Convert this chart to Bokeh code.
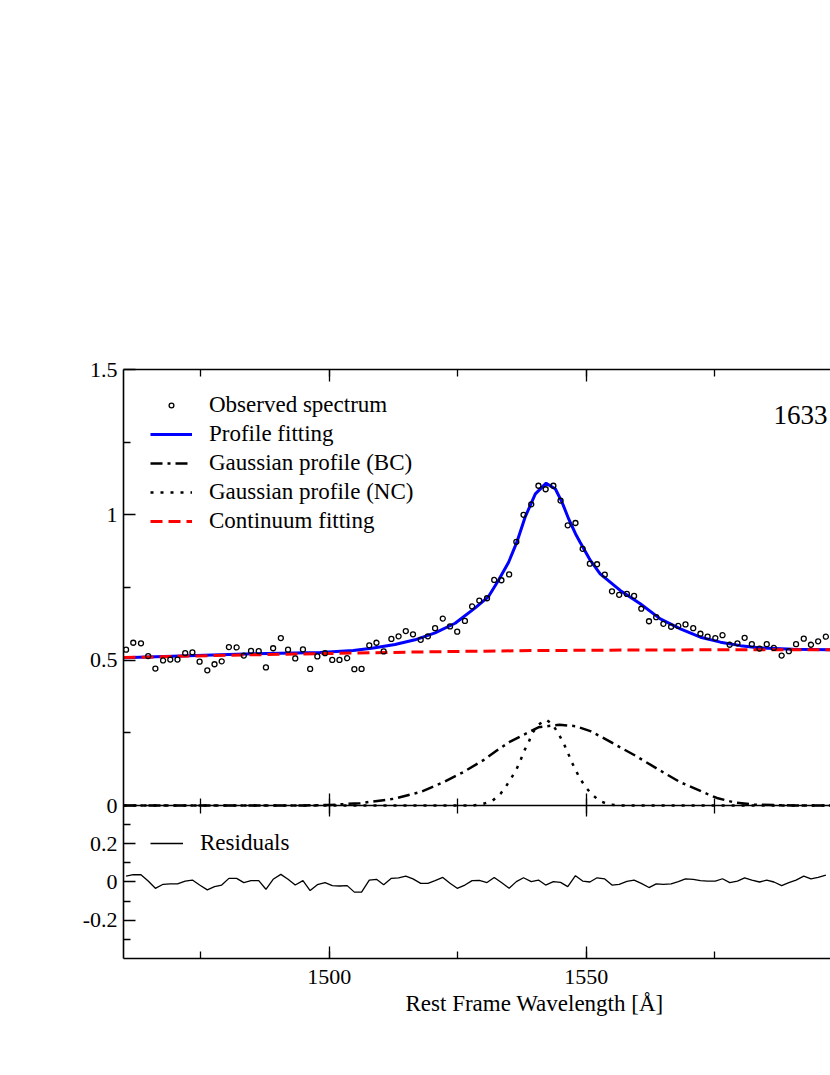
from bokeh.plotting import figure
from bokeh.models import (LinearAxis, Range1d, FixedTicker, SingleIntervalTicker,
                          Legend, LegendItem, Label, Title)
from bokeh.embed import file_html
from bokeh.resources import INLINE

FONT = "Liberation Serif"

# ---------------- data ----------------
wavelength = [1460.5, 1461.9, 1463.4, 1464.8, 1466.2, 1467.7, 1469.1, 1470.5, 1472.0, 1473.4,
              1474.8, 1476.3, 1477.7, 1479.1, 1480.5, 1482.0, 1483.4, 1484.8, 1486.3, 1487.7,
              1489.1, 1490.6, 1492.0, 1493.4, 1494.9, 1496.3, 1497.7, 1499.2, 1500.6, 1502.0,
              1503.5, 1504.9, 1506.3, 1507.8, 1509.2, 1510.6, 1512.1, 1513.5, 1514.9, 1516.3,
              1517.8, 1519.2, 1520.6, 1522.1, 1523.5, 1524.9, 1526.4, 1527.8, 1529.2, 1530.7,
              1532.1, 1533.5, 1535.0, 1536.4, 1537.8, 1539.3, 1540.7, 1542.1, 1543.6, 1545.0,
              1546.4, 1547.9, 1549.3, 1550.7, 1552.1, 1553.6, 1555.0, 1556.4, 1557.9, 1559.3,
              1560.7, 1562.2, 1563.6, 1565.0, 1566.5, 1567.9, 1569.3, 1570.8, 1572.2, 1573.6,
              1575.1, 1576.5, 1577.9, 1579.4, 1580.8, 1582.2, 1583.7, 1585.1, 1586.5, 1588.0,
              1589.4, 1590.8, 1592.3, 1593.7, 1595.1, 1596.6]

observed = [0.536, 0.560, 0.558, 0.514, 0.471, 0.499, 0.502, 0.502, 0.524, 0.527,
            0.495, 0.465, 0.486, 0.496, 0.545, 0.544, 0.516, 0.532, 0.531, 0.475,
            0.541, 0.576, 0.536, 0.506, 0.537, 0.470, 0.513, 0.524, 0.501, 0.501,
            0.507, 0.469, 0.470, 0.551, 0.560, 0.530, 0.573, 0.582, 0.600, 0.589,
            0.570, 0.582, 0.610, 0.643, 0.616, 0.598, 0.635, 0.685, 0.705, 0.713,
            0.776, 0.775, 0.795, 0.907, 1.000, 1.036, 1.100, 1.088, 1.100, 1.049,
            0.964, 0.972, 0.883, 0.832, 0.830, 0.794, 0.737, 0.725, 0.728, 0.721,
            0.677, 0.634, 0.648, 0.625, 0.615, 0.618, 0.623, 0.610, 0.591, 0.581,
            0.576, 0.586, 0.553, 0.558, 0.577, 0.555, 0.540, 0.555, 0.542, 0.516,
            0.531, 0.555, 0.574, 0.553, 0.565, 0.581]

residuals = [0.031, 0.038, 0.038, 0.005, -0.033, -0.012, -0.010, -0.010, 0.005, 0.010,
             -0.016, -0.041, -0.024, -0.016, 0.019, 0.019, -0.003, 0.007, 0.007, -0.038,
             0.014, 0.040, 0.014, -0.016, 0.007, -0.045, -0.014, -0.003, -0.019, -0.021,
             -0.019, -0.053, -0.053, 0.010, 0.014, -0.014, 0.019, 0.022, 0.031, 0.016,
             -0.007, -0.007, 0.007, 0.024, -0.007, -0.033, -0.016, 0.007, 0.008, -0.003,
             0.024, -0.003, -0.033, 0.002, 0.022, 0.002, 0.010, -0.016, 0.002, -0.002,
             -0.024, 0.033, 0.005, 0.000, 0.022, 0.016, -0.016, -0.012, 0.003, 0.010,
             -0.007, -0.029, -0.010, -0.012, -0.010, 0.002, 0.016, 0.014, 0.007, 0.005,
             0.005, 0.017, -0.003, 0.005, 0.022, 0.010, 0.000, 0.010, 0.000, -0.019,
             -0.003, 0.010, 0.031, 0.016, 0.024, 0.036]

fit_wl = [1460.0, 1485.2, 1498.2, 1504.7, 1508.6, 1512.8, 1516.7, 1520.6, 1524.5, 1528.4,
          1531.0, 1532.9, 1534.9, 1536.5, 1538.1, 1540.1, 1542.2, 1544.0, 1545.3, 1546.6,
          1547.9, 1548.8, 1550.8, 1552.7, 1556.6, 1560.5, 1564.4, 1568.3, 1572.2, 1576.1,
          1580.0, 1583.9, 1590.3, 1597.5]
fit_flux = [0.508, 0.522, 0.526, 0.533, 0.542, 0.554, 0.570, 0.594, 0.627, 0.680,
            0.719, 0.774, 0.837, 0.906, 0.992, 1.072, 1.109, 1.089, 1.043, 0.985,
            0.935, 0.906, 0.843, 0.797, 0.740, 0.694, 0.642, 0.608, 0.579, 0.562,
            0.550, 0.542, 0.538, 0.536]

cont_wl = [1460.0, 1480.0, 1500.0, 1520.0, 1540.0, 1560.0, 1580.0, 1597.5]
cont_flux = [0.509, 0.517, 0.523, 0.529, 0.533, 0.535, 0.536, 0.536]

bc_wl = [1460.0, 1495.0, 1500.2, 1506.0, 1512.5, 1517.7, 1522.2, 1526.1, 1530.0, 1532.6,
         1535.2, 1540.7, 1544.8, 1547.9, 1550.8, 1554.0, 1556.6, 1559.5, 1564.4, 1568.3,
         1573.5, 1575.4, 1578.7, 1582.6, 1590.3, 1597.5]
bc_flux = [0.0, 0.0, 0.002, 0.008, 0.023, 0.046, 0.080, 0.115, 0.156, 0.189,
           0.220, 0.269, 0.278, 0.273, 0.256, 0.226, 0.200, 0.172, 0.120, 0.080,
           0.040, 0.026, 0.011, 0.003, 0.0, 0.0]

nc_wl = [1460.0, 1528.0, 1530.0, 1531.8, 1533.3, 1534.4, 1535.5, 1536.4, 1537.2, 1537.9,
         1538.8, 1539.5, 1540.7, 1542.2, 1543.4, 1544.6, 1545.6, 1546.4, 1547.1, 1548.0,
         1548.8, 1549.9, 1551.1, 1552.7, 1554.5, 1556.5, 1597.5]
nc_flux = [0.0, 0.0, 0.006, 0.017, 0.040, 0.066, 0.097, 0.123, 0.155, 0.187,
           0.218, 0.249, 0.278, 0.295, 0.280, 0.247, 0.214, 0.183, 0.152, 0.120,
           0.092, 0.063, 0.038, 0.015, 0.003, 0.0, 0.0]

flux_ticks = [0, 0.5, 1, 1.5]
flux_minor = [0.25, 0.75, 1.25]
flux_labels = ["0", "0.5", "1", "1.5"]
resid_ticks = [-0.2, 0, 0.2]
resid_minor = [-0.3, -0.1, 0.1, 0.3]
resid_labels = ["-0.2", "0", "0.2"]

# ---------------- figure ----------------
FLUX_RANGE = Range1d(-0.5263, 1.5)      # upper panel: 0 .. 1.5 ; residual panel below 0
RESID_RANGE = Range1d(-0.4, 2.6797)     # residual panel: -0.4 .. 0.4 at the bottom

p = figure(width=830, height=1028, x_range=Range1d(1460, 1597.5),
           y_range=FLUX_RANGE,
           x_axis_type=None, y_axis_type=None,
           output_backend="svg", toolbar_location=None,
           min_border_left=123, min_border_right=0,
           min_border_top=369, min_border_bottom=70)
p.extra_y_ranges = {"resid": RESID_RANGE}
p.outline_line_color = None
p.background_fill_color = "white"
p.border_fill_color = "white"


def resid_to_flux(r):
    """position of a residual-scale value on the flux scale (both share the frame)"""
    return FLUX_RANGE.start + (r - RESID_RANGE.start) * \
        (FLUX_RANGE.end - FLUX_RANGE.start) / (RESID_RANGE.end - RESID_RANGE.start)


def style(ax, labels=True):
    ax.axis_line_color = "black"
    ax.axis_line_width = 1.6
    ax.major_tick_in = 12
    ax.major_tick_out = 0
    ax.minor_tick_in = 7
    ax.minor_tick_out = 0
    ax.major_tick_line_color = "black"
    ax.minor_tick_line_color = "black"
    ax.major_tick_line_width = 1.3
    ax.minor_tick_line_width = 1.3
    ax.major_label_text_font = FONT
    ax.major_label_text_font_size = "22px"
    ax.major_label_text_color = "black" if labels else None
    ax.major_label_standoff = 6


xticker = SingleIntervalTicker(interval=50, num_minor_ticks=2)

ax_bottom = LinearAxis(ticker=xticker)
style(ax_bottom)
ax_bottom.major_label_standoff = 11
p.add_layout(ax_bottom, "below")

p.add_layout(Title(text="Rest Frame Wavelength [Å]", align="left", offset=282,
                   text_font=FONT, text_font_size="23px", text_font_style="normal",
                   text_color="black", standoff=4), "below")

ax_top = LinearAxis(ticker=xticker)
style(ax_top, labels=False)
p.add_layout(ax_top, "above")

ax_mid = LinearAxis(ticker=xticker, fixed_location=0)
style(ax_mid, labels=False)
ax_mid.major_tick_out = 11
ax_mid.minor_tick_out = 8
p.add_layout(ax_mid, "below")

left_major = list(flux_ticks) + [resid_to_flux(r) for r in resid_ticks]
left_minor = list(flux_minor) + [resid_to_flux(r) for r in resid_minor]
left_labels = dict(zip(left_major, flux_labels + resid_labels))

ax_left = LinearAxis(ticker=FixedTicker(ticks=left_major, minor_ticks=left_minor),
                     major_label_overrides=left_labels)
style(ax_left)
p.add_layout(ax_left, "left")

# ---------------- glyphs ----------------
r_fit = p.line(fit_wl, fit_flux, line_color="#0000ff", line_width=3)
r_cont = p.line(cont_wl, cont_flux, line_color="#ff0000", line_width=3, line_dash="12 6")
r_bc = p.line(bc_wl, bc_flux, line_color="black", line_width=2.5, line_dash="12 5 3 5")
r_nc = p.line(nc_wl, nc_flux, line_color="black", line_width=2.5, line_dash="3 7")
r_obs = p.scatter(wavelength, observed, marker="circle", size=5, fill_color=None,
                  line_color="black", line_width=1.3)
r_res = p.line(wavelength, residuals, line_color="black", line_width=1.3, y_range_name="resid")


def make_legend(items, loc, gw):
    return Legend(items=items, location=loc, orientation="vertical",
                  border_line_color=None, background_fill_alpha=0,
                  glyph_width=gw, glyph_height=12, label_height=29,
                  label_standoff=17, spacing=0, padding=6, margin=0,
                  label_text_font=FONT, label_text_font_size="23px",
                  label_text_color="black")


leg_top = make_legend([
    LegendItem(label="Observed spectrum", renderers=[r_obs]),
    LegendItem(label="Profile fitting", renderers=[r_fit]),
    LegendItem(label="Gaussian profile (BC)", renderers=[r_bc]),
    LegendItem(label="Gaussian profile (NC)", renderers=[r_nc]),
    LegendItem(label="Continuum fitting", renderers=[r_cont]),
], (27, 423), 42)
p.add_layout(leg_top)

leg_res = make_legend([LegendItem(label="Residuals", renderers=[r_res])], (27, 101), 33)
p.add_layout(leg_res)

p.add_layout(Label(x=1586.4, y=1.345, text="1633", text_font=FONT,
                   text_font_size="27px", text_align="left",
                   text_baseline="middle", text_color="black"))

open("out.html", "w").write(file_html(p, INLINE))
